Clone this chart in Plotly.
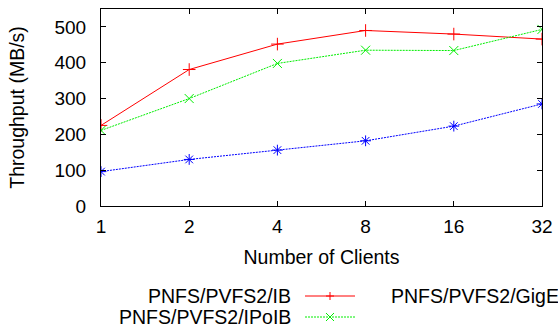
import plotly.graph_objects as go

clients = [1, 2, 4, 8, 16, 32]
tick_labels = ["1", "2", "4", "8", "16", "32"]
ib = [225, 381, 452, 490, 480, 466]
ipoib = [211, 300, 398, 435, 434, 493]
gige = [96, 130, 156, 182, 223, 285]
names = ["PNFS/PVFS2/IB", "PNFS/PVFS2/IPoIB", "PNFS/PVFS2/GigE"]

FONT = "Liberation Sans, Arial, sans-serif"
W, H = 558, 328
L, R, T, B = 101, 16, 9, 122
pw, ph = W - L - R, H - T - B
GREEN = "#00ee00"

fig = go.Figure()
fig.add_trace(go.Scatter(x=clients, y=ib, name=names[0], mode="lines+markers",
                         line=dict(color="#ff0000", width=1),
                         marker=dict(symbol="cross-thin-open", size=9, line=dict(color="#ff0000", width=1)),
                         cliponaxis=True))
fig.add_trace(go.Scatter(x=clients, y=ipoib, name=names[1], mode="lines+markers",
                         line=dict(color=GREEN, width=1, dash="2px,1px"),
                         marker=dict(symbol="x-thin-open", size=9, line=dict(color=GREEN, width=1)),
                         cliponaxis=True))
fig.add_trace(go.Scatter(x=clients, y=gige, name=names[2], mode="lines+markers",
                         line=dict(color="#0000ff", width=1, dash="2px,1px"),
                         marker=dict(symbol="asterisk-open", size=9, line=dict(color="#0000ff", width=1)),
                         cliponaxis=True))

def px(x):
    return (x - L) / pw

def py(y):
    return (H - B - y) / ph

annotations = []
shapes = []
# manual gnuplot-style key
key_rows = [(names[0], 293, 296, "#ff0000", "solid", "plus"),
            (names[1], 293, 317, GREEN, "2px,1px", "x"),
            (names[2], 561, 296, "#0000ff", "2px,1px", "star")]
for name, xr, yc, col, dash, sym in key_rows:
    annotations.append(dict(text=name, xref="paper", yref="paper", x=px(xr), y=py(yc),
                            xanchor="right", yanchor="middle", showarrow=False,
                            font=dict(family=FONT, size=19.5, color="black")))
    sx0, sx1 = xr + 12, xr + 62
    shapes.append(dict(type="line", xref="paper", yref="paper", x0=px(sx0), x1=px(sx1),
                       y0=py(yc), y1=py(yc), line=dict(color=col, width=1, dash=dash)))
    cx = (sx0 + sx1) / 2
    d = 4
    if sym == "plus":
        segs = [((cx - d, yc), (cx + d, yc)), ((cx, yc - d), (cx, yc + d))]
    elif sym == "x":
        segs = [((cx - d, yc - d), (cx + d, yc + d)), ((cx - d, yc + d), (cx + d, yc - d))]
    else:
        segs = [((cx - d, yc), (cx + d, yc)), ((cx, yc - d), (cx, yc + d)),
                ((cx - d, yc - d), (cx + d, yc + d)), ((cx - d, yc + d), (cx + d, yc - d))]
    for (a, b) in segs:
        shapes.append(dict(type="line", xref="paper", yref="paper", x0=px(a[0]), x1=px(b[0]),
                           y0=py(a[1]), y1=py(b[1]), line=dict(color=col, width=1)))

fig.update_layout(
    width=W, height=H,
    margin=dict(l=L, r=R, t=T, b=B, autoexpand=False),
    paper_bgcolor="white", plot_bgcolor="white",
    showlegend=False,
    font=dict(family=FONT, size=19, color="black"),
    annotations=annotations, shapes=shapes,
)
fig.update_xaxes(type="log", range=[0, 1.50515], tickvals=clients, ticktext=tick_labels,
                 showgrid=False, zeroline=False, showline=True, linecolor="black", linewidth=1,
                 mirror="allticks", ticks="inside", ticklen=5, tickcolor="black",
                 ticklabelstandoff=3,
                 title=dict(text="Number of Clients", font=dict(size=19.5), standoff=14))
fig.update_yaxes(range=[0, 550], tickvals=[0, 100, 200, 300, 400, 500],
                 showgrid=False, zeroline=False, showline=True, linecolor="black", linewidth=1,
                 mirror="allticks", ticks="inside", ticklen=5, tickcolor="black",
                 ticklabelstandoff=10,
                 title=dict(text="Throughput (MB/s)", font=dict(size=19.5), standoff=24))

fig.write_html("out.html", config={"displayModeBar": False},
               post_script="document.body.style.margin='0';document.body.style.overflow='hidden';")
